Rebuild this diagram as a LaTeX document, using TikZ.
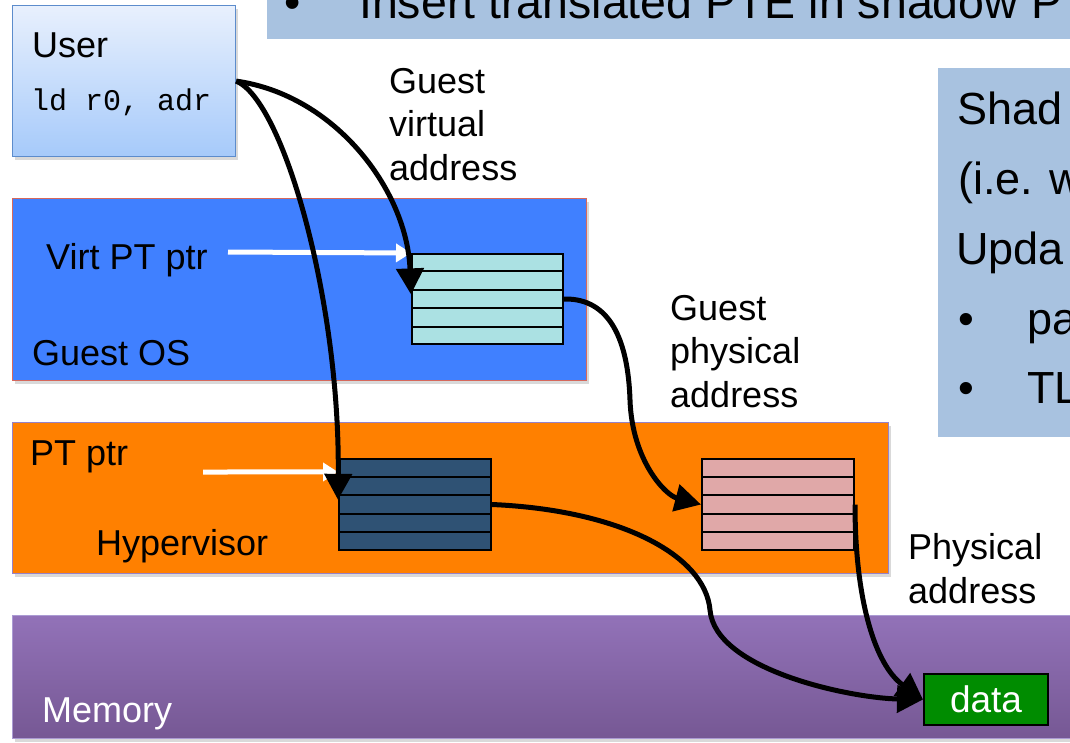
\documentclass[tikz,border=0pt]{standalone}
\usepackage{fontspec}
\setmainfont{Liberation Sans}
\newfontfamily\codefont{Liberation Mono}
\usetikzlibrary{arrows.meta,shadows,calc}

\definecolor{panelblue}{RGB}{168,194,224}
\definecolor{userborder}{RGB}{92,140,204}
\definecolor{usertop}{RGB}{232,240,253}
\definecolor{userbottom}{RGB}{166,202,250}
\definecolor{guestblue}{RGB}{64,128,255}
\definecolor{guestborder}{RGB}{214,104,92}
\definecolor{hyperorange}{RGB}{255,128,0}
\definecolor{hyperborder}{RGB}{150,130,200}
\definecolor{memtop}{RGB}{146,114,184}
\definecolor{membottom}{RGB}{118,88,148}
\definecolor{gptfill}{RGB}{171,225,227}
\definecolor{hptfill}{RGB}{47,82,116}
\definecolor{pptfill}{RGB}{224,168,168}
\definecolor{datagreen}{RGB}{0,140,0}

\tikzset{
  layer/.style={rectangle, anchor=north west, line width=1.2pt,
    drop shadow={shadow xshift=2.5pt, shadow yshift=-3.5pt, opacity=0.3}},
  panel/.style={rectangle, anchor=north west, fill=panelblue, draw=none},
  ptable/.style={rectangle, anchor=north west, draw=black, line width=2pt,
    minimum width=152pt, minimum height=91pt},
  rowline/.style={black, line width=2pt},
  lbl/.style={inner sep=0pt, anchor=base west, font=\fontsize{36}{43.5}\selectfont},
  sidetxt/.style={inner sep=0pt, anchor=base west, font=\fontsize{45}{54}\selectfont},
  flow/.style={line width=5pt, -{Triangle[length=26pt,width=27pt]}},
  ptrarrow/.style={white, line width=5pt, -{Triangle[length=15pt,width=18pt]}},
}

\begin{document}
\begin{tikzpicture}[x=1pt,y=-1pt]
\useasboundingbox (0,0) rectangle (1070,742);
\clip (0,0) rectangle (1070,742);

% slide panels in the background
\node[panel, minimum width=820pt, minimum height=60pt] (banner) at (267,-21) {};
\node[inner sep=0pt, anchor=base west, font=\fontsize{46.5}{56}\selectfont] (bul0) at (284,18) {•};
\node[inner sep=0pt, anchor=base west, font=\fontsize{46.5}{56}\selectfont] (bannertxt) at (359,18) {Insert translated PTE in shadow P};

\node[panel, minimum width=150pt, minimum height=369pt] (side) at (938,68) {};
\node[sidetxt] (s1) at (957,124) {Shad};
\node[sidetxt] (s2) at (958,194) {(i.e. w};
\node[sidetxt] (s3) at (956,264) {Upda};
\node[sidetxt] (b1) at (958,334) {•};
\node[sidetxt] (s4) at (1027,334) {pa};
\node[sidetxt] (b2) at (958,403) {•};
\node[sidetxt] (s5) at (1027,403) {TL};

% software layers
\node[layer, draw=userborder, top color=usertop, bottom color=userbottom,
      minimum width=223pt, minimum height=151pt] (user) at (12,5) {};
\node[layer, draw=guestborder, fill=guestblue,
      minimum width=574pt, minimum height=182pt] (guest) at (12,198) {};
\node[layer, draw=hyperborder, fill=hyperorange,
      minimum width=876pt, minimum height=151pt] (hyper) at (12,422) {};
\node[layer, draw=hyperborder!80!white, top color=memtop, bottom color=membottom,
      minimum width=1070pt, minimum height=123pt] (mem) at (12,615) {};

% labels inside the layers
\node[lbl] (usertxt) at (32,57) {User};
\node[inner sep=0pt, anchor=base west, font=\codefont\fontsize{30}{36}\selectfont] (ldtxt) at (31,110) {ld r0, adr};
\node[lbl] (vptr) at (46,269) {Virt PT ptr};
\node[lbl] (gostxt) at (32,365) {Guest OS};
\node[lbl] (ptptr) at (30,465) {PT ptr};
\node[lbl] (hvtxt) at (96,555) {Hypervisor};
\node[lbl, white] (memtxt) at (42,722) {Memory};

% page tables
\node[ptable, fill=gptfill, minimum height=90pt, minimum width=151pt] (gpt) at (411,253) {};
\node[ptable, fill=hptfill] (hpt) at (338,458) {};
\node[ptable, fill=pptfill] (ppt) at (701,458) {};
\foreach \tb in {gpt,hpt,ppt}{
  \foreach \t in {0.2,0.4,0.6,0.8}
    \draw[rowline] ($(\tb.north west)!\t!(\tb.south west)$) -- ($(\tb.north east)!\t!(\tb.south east)$);
}

% data word in memory
\node[rectangle, draw=black, line width=2pt, fill=datagreen, text=white,
      minimum width=124pt, minimum height=51pt, font=\fontsize{37}{44}\selectfont] (data) at (986,699.5) {data};

% address labels (anchored at the baseline of their last line)
\node[lbl, align=left] (gva) at (389,180) {Guest\\virtual\\address};
\node[lbl, align=left] (gpa) at (670,407) {Guest\\physical\\address};
\node[lbl, align=left] (pa) at (908,603) {Physical\\address};

% page table pointers
\coordinate (vptrtail) at (228,252);
\coordinate (ptptrtail) at (203,472);
\draw[ptrarrow] (vptrtail) -- (gpt.north west);
\draw[ptrarrow] (ptptrtail) -- ($(hpt.north west)!0.15!(hpt.south west)$);

% translation paths
\coordinate (gptin) at ($(gpt.north west)!0.45!(gpt.south west)$);
\coordinate (hptin) at ($(hpt.north west)!0.45!(hpt.south west)$);
\coordinate (gptout) at ($(gpt.north east)!0.5!(gpt.south east)$);
\coordinate (pptin) at ($(ppt.north west)!0.5!(ppt.south west)$);
\coordinate (hptout) at ($(hpt.north east)!0.5!(hpt.south east)$);
\coordinate (pptout) at ($(ppt.north east)!0.5!(ppt.south east)$);

\draw[flow] (user.east) .. controls (335,95) and (407,190) .. (gptin);
\draw[flow] (user.east) .. controls (283,100) and (340,300) .. (hptin);
\draw[flow] (gptout) .. controls (610,298) and (628,340) .. (630,400)
                    .. controls (632,460) and (665,495) .. (pptin);
\draw[flow] (hptout) .. controls (620,510) and (705,555) .. (710,610)
                    .. controls (715,670) and (850,698) .. (data.west);
\draw[flow] (pptout) .. controls (855,600) and (875,665) .. (data.west);
\end{tikzpicture}
\end{document}
